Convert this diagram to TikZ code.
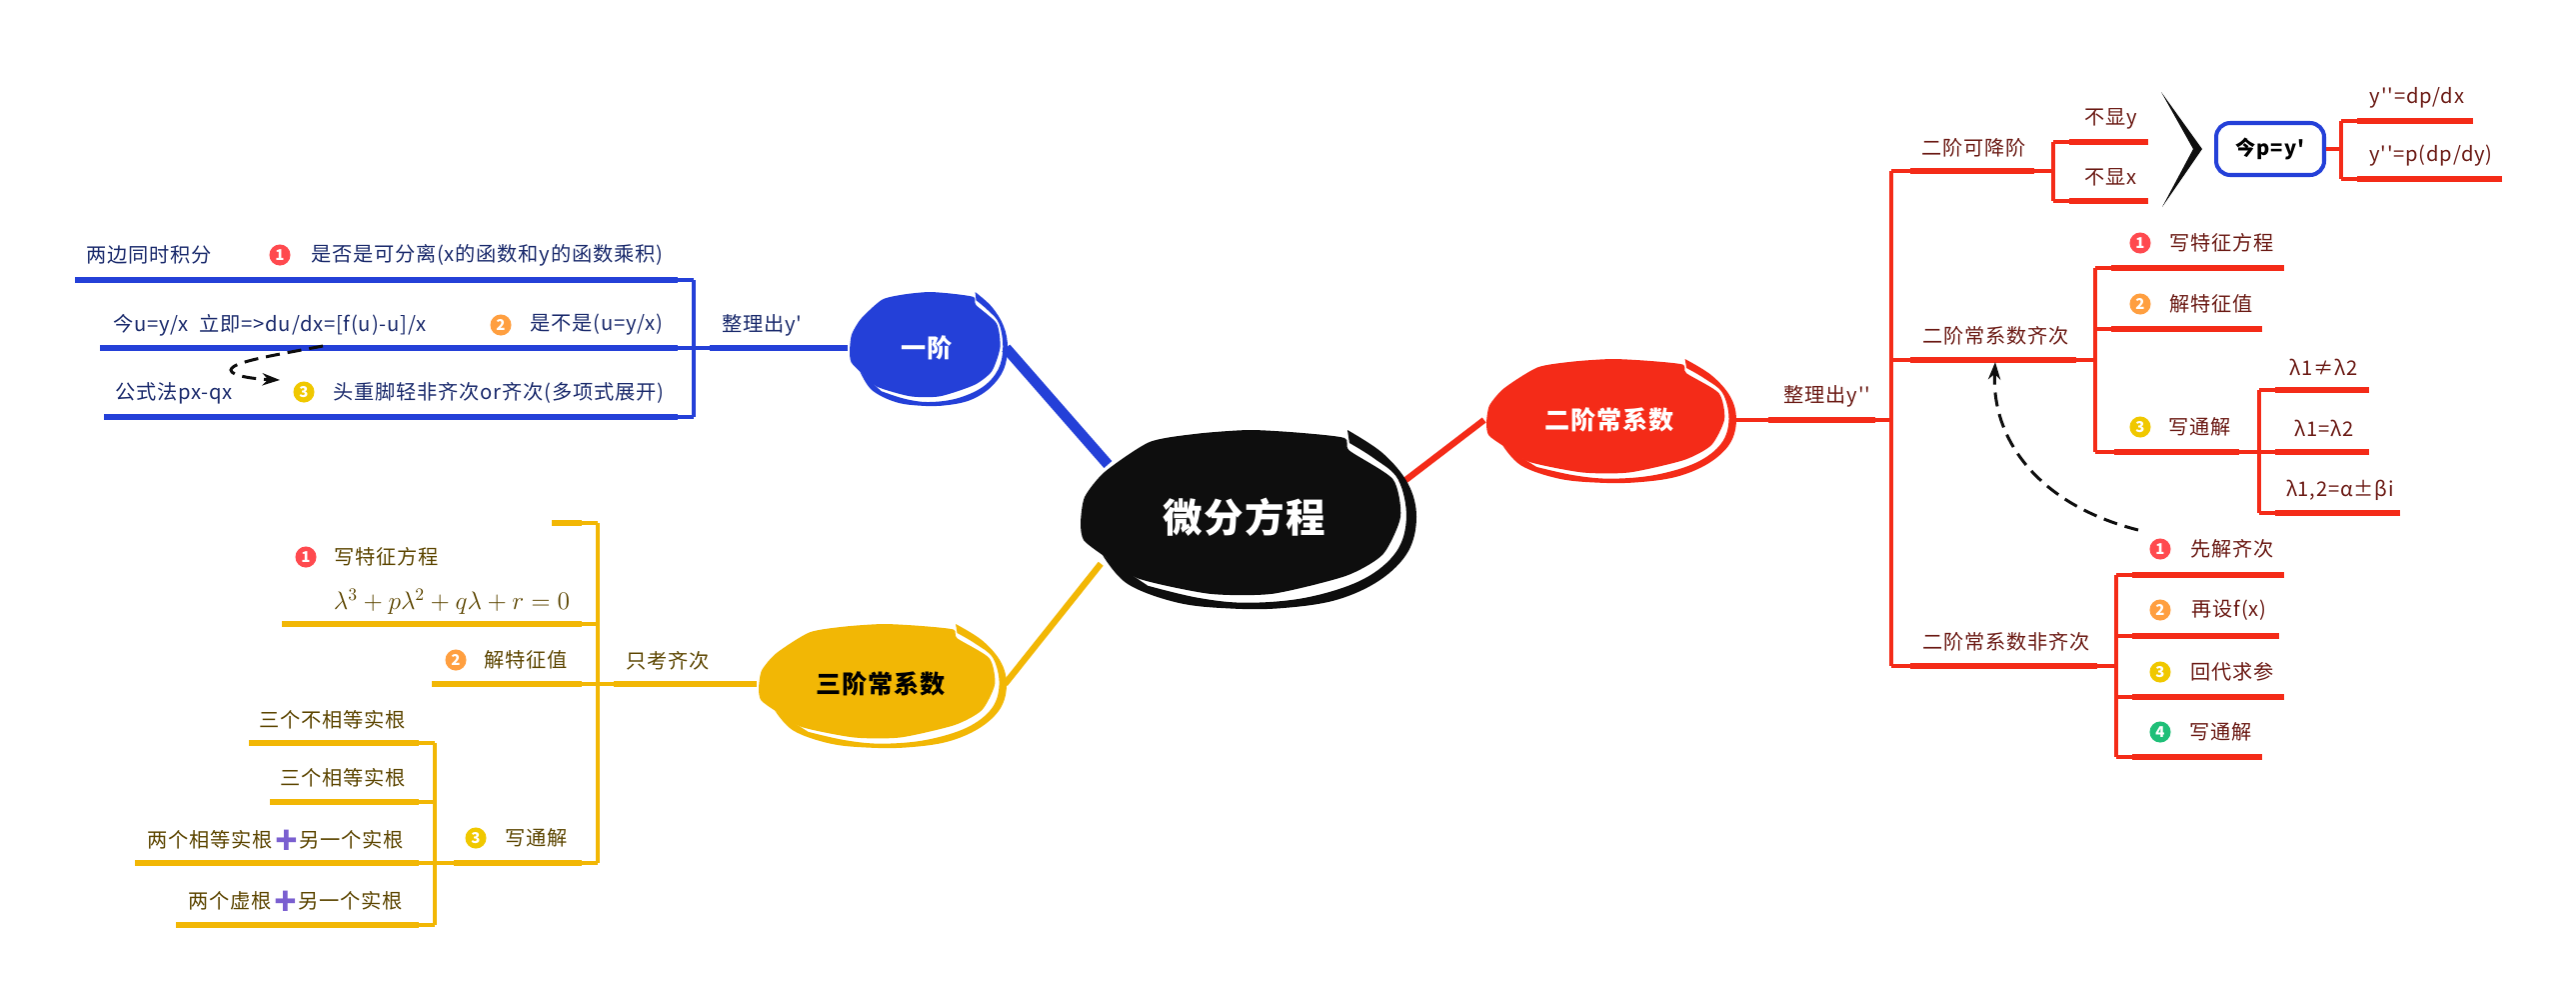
\documentclass[tikz,border=0pt]{standalone}
\usepackage{amsmath}
\usepackage{fontspec}
\usepackage{tikz}
\usetikzlibrary{arrows.meta,shapes.geometric}
\newfontfamily\cjk[LetterSpace=4]{Noto Sans CJK SC}
\newfontfamily\emojifont{Noto Emoji}
\definecolor{blueline}{HTML}{2440D8}
\definecolor{goldline}{HTML}{F2B705}
\definecolor{redline}{HTML}{F42B18}
\definecolor{inkblack}{HTML}{0E0E0E}
\definecolor{bluetext}{HTML}{1A2A6C}
\definecolor{goldtext}{HTML}{5C4500}
\definecolor{redtext}{HTML}{6B1A14}
\definecolor{badgered}{HTML}{FF4A4F}
\definecolor{badgeorange}{HTML}{FF9F40}
\definecolor{badgeyellow}{HTML}{F0C800}
\definecolor{badgegreen}{HTML}{1FBF78}
\definecolor{pluscolor}{HTML}{7A5FD0}
\pgfdeclarelayer{back}
\pgfsetlayers{back,main}
\newcommand{\plusmark}{{\color{pluscolor}\emojifont\fontsize{12}{13}\selectfont ➕}}
\newcommand{\blob}[5]{
    \begin{scope}[shift={(#1,#2)},xscale=#3,yscale=#4]
        \fill[#5] plot[smooth cycle,tension=.4] coordinates {(.571,-.911) (.3,-.97) (.006,-1) (-.3,-.96) (-.589,-.866) (-.857,-.531) (-.976,-.251) (-1,.039) (-.982,.229) (-.869,.397) (-.655,.66) (-.232,.83) (.143,.83) (.58,.63) (.80,.39) (.905,-.03) (.86,-.45) (.601,-.77)};
        \fill[#5] plot[smooth,tension=.6] coordinates {(.589,-1) (.80,-.74) (.95,-.40) (1,-.03) (.95,.36) (.78,.68) (.52,.9) (.2,.99) (-.1,.995) (-.42,.93) (-.72,.72) (-.869,.397)} -- plot[smooth,tension=.6] coordinates {(-.6,.74) (-.3,.875) (-.006,.93) (.35,.87) (.68,.67) (.88,.36) (.94,-.03) (.89,-.45) (.75,-.68) (.601,-.855)} -- cycle;
    \end{scope}
}
\tikzset{
    bluenote/.style={text=bluetext,inner sep=0pt,font=\cjk\fontsize{11.5}{13}\selectfont},
    goldnote/.style={text=goldtext,inner sep=0pt,font=\cjk\fontsize{11.5}{13}\selectfont},
    rednote/.style={text=redtext,inner sep=0pt,font=\cjk\fontsize{11.5}{13}\selectfont},
    badge/.style={circle,fill=#1,text=white,inner sep=0pt,minimum size=12pt,font=\cjk\bfseries\fontsize{8.5}{9}\selectfont},
    topic/.style={ellipse,inner sep=0pt,font=\cjk\bfseries\fontsize{14.3}{16}\selectfont},
    twig/.style={draw=#1,line width=3pt,shorten >=9pt,preaction={draw=#1,line width=1.9pt,shorten >=0pt}},
    stem/.style={line width=1.9pt},
    hint/.style={draw=inkblack,line width=1.7pt,dash pattern=on 8pt off 4.5pt,-{Stealth[length=10pt,width=7pt]}}
}
\begin{document}
\begin{tikzpicture}[x=0.02cm,y=-0.02cm]
    \useasboundingbox (0,0) rectangle (2577,1002);
    \blob{1249}{519.5}{168}{89.5}{inkblack}
    \blob{929}{349}{79}{57}{blueline}
    \blob{883}{686}{124}{62}{goldline}
    \blob{1612}{421}{125}{62}{redline}

    \node[topic,text=white,minimum width=6.72cm,minimum height=3.58cm,font=\cjk\bfseries\fontsize{22.5}{24}\selectfont] (root) at (1245,517) {微分方程};
    \node[topic,text=white,minimum width=3.16cm,minimum height=2.28cm] (first) at (927,348) {一阶};
    \node[topic,text=black,minimum width=4.96cm,minimum height=2.48cm] (third) at (881,684) {三阶常系数};
    \node[topic,text=white,minimum width=5cm,minimum height=2.48cm] (second) at (1610,420) {二阶常系数};

    \begin{pgfonlayer}{back}
        \draw[blueline,line width=6pt] (root.159) -- (first.east);
        \draw[goldline,line width=3.6pt] (root.198) -- (third.east);
        \draw[redline,line width=3.6pt] (root.12) -- (second.west);
    \end{pgfonlayer}

    \node[bluenote] (firstlabel) at (762,325) {整理出y'};
    \node[bluenote] (b1) at (149,255) {两边同时积分};
    \node[badge=badgered] (b1m) at (280,255) {1};
    \node[bluenote] (b1t) at (487,255) {是否是可分离(x的函数和y的函数乘积)};
    \node[bluenote] (b2) at (270,325) {今u=y/x\ \ 立即=>du/dx=[f(u)-u]/x};
    \node[badge=badgeorange] (b2m) at (501,325) {2};
    \node[bluenote] (b2t) at (597,325) {是不是(u=y/x)};
    \node[bluenote] (b3) at (174,393) {公式法px-qx};
    \node[badge=badgeyellow] (b3m) at (304,392) {3};
    \node[bluenote] (b3t) at (499,393) {头重脚轻非齐次or齐次(多项式展开)};

    \foreach \nm/\xa/\xb/\yy in {bl1/75/694/280,bl2/100/694/348,bl3/104/694/417}{
        \coordinate (\nm a) at (\xa,\yy);
        \coordinate (\nm b) at (\xb,\yy);
        \draw[twig=blueline] (\nm a) -- (\nm b);
    }
    \draw[blueline,stem] (bl1b) -- (bl3b);
    \draw[twig=blueline] (first.west) -- (bl2b);
    \coordinate (bhinta) at (323,346);
    \coordinate (bhintb) at (280,380);
    \draw[hint] (bhinta) .. controls (270,356) and (232,362) .. (231,370) .. controls (231,376) and (255,379) .. (bhintb);

    \node[goldnote] (thirdlabel) at (668,661) {只考齐次};
    \node[badge=badgered] (g1m) at (306,557) {1};
    \node[goldnote] (g1) at (387,557) {写特征方程};
    \node[goldnote,font=\Large] (g1f) at (452,602) {$\lambda^3+p\lambda^2+q\lambda+r=0$};
    \node[badge=badgeorange] (g2m) at (456,660) {2};
    \node[goldnote] (g2) at (526,660) {解特征值};
    \node[badge=badgeyellow] (g3m) at (476,838) {3};
    \node[goldnote] (g3) at (537,838) {写通解};
    \node[goldnote] (gs1t) at (333,720) {三个不相等实根};
    \node[goldnote] (gs2t) at (343,778) {三个相等实根};
    \node[goldnote] (gs3t) at (276,840) {两个相等实根\plusmark 另一个实根};
    \node[goldnote] (gs4t) at (296,901) {两个虚根\plusmark 另一个实根};

    \foreach \nm/\xa/\xb/\yy in {gl0/552/598/523,gl1/282/598/624,gl2/432/598/684,gl3/454/598/863,gs1/249/435/743,gs2/270/435/802,gs3/135/435/863,gs4/176/435/925}{
        \coordinate (\nm a) at (\xa,\yy);
        \coordinate (\nm b) at (\xb,\yy);
        \draw[twig=goldline] (\nm a) -- (\nm b);
    }
    \draw[goldline,stem] (gl0b) -- (gl3b);
    \draw[goldline,stem] (gs1b) -- (gs4b);
    \draw[goldline,stem] (gs3b) -- (gl3a);
    \draw[twig=goldline] (third.west) -- (gl2b);

    \node[rednote] (secondlabel) at (1828,396) {整理出y''};
    \node[rednote] (r1) at (1975,148) {二阶可降阶};
    \node[rednote] (r1a) at (2112,119) {不显y};
    \node[rednote] (r1b) at (2112,177) {不显x};
    \node[draw=blueline,line width=2.3pt,rounded corners=8pt,minimum width=2.16cm,minimum height=1.04cm,inner sep=0pt,text=black,font=\cjk\bfseries\fontsize{11.5}{13}\selectfont] (letp) at (2271,149) {今p=y'};
    \node[rednote] (rp1t) at (2418,98) {y''=dp/dx};
    \node[rednote] (rp2t) at (2432,156) {y''=p(dp/dy)};
    \node[rednote] (r2) at (1997,336) {二阶常系数齐次};
    \node[badge=badgered] (r21m) at (2141,243) {1};
    \node[rednote] (r21t) at (2223,243) {写特征方程};
    \node[badge=badgeorange] (r22m) at (2141,304) {2};
    \node[rednote] (r22t) at (2212,304) {解特征值};
    \node[badge=badgeyellow] (r23m) at (2141,427) {3};
    \node[rednote] (r23t) at (2201,427) {写通解};
    \node[rednote] (rs1t) at (2325,367) {λ1≠λ2};
    \node[rednote] (rs2t) at (2325,428) {λ1=λ2};
    \node[rednote] (rs3t) at (2341,490) {λ1,2=α±βi};
    \node[rednote] (r3) at (2007,642) {二阶常系数非齐次};
    \node[badge=badgered] (r31m) at (2161,549) {1};
    \node[rednote] (r31t) at (2233,549) {先解齐次};
    \node[badge=badgeorange] (r32m) at (2161,610) {2};
    \node[rednote] (r32t) at (2230,610) {再设f(x)};
    \node[badge=badgeyellow] (r33m) at (2161,672) {3};
    \node[rednote] (r33t) at (2233,672) {回代求参};
    \node[badge=badgegreen] (r34m) at (2161,732) {4};
    \node[rednote] (r34t) at (2222,732) {写通解};

    \foreach \nm/\xa/\xb/\yy in {rl1/2149/2054/142,rl2/2149/2054/201,rp1/2474/2342/121,rp2/2503/2342/179,r21/2285/2096/268,r22/2263/2096/329,rs1/2370/2260/390,rs2/2370/2260/452,rs3/2401/2260/513,r31/2285/2117/575,r32/2280/2117/636,r33/2285/2117/697,r34/2263/2117/757}{
        \coordinate (\nm a) at (\xa,\yy);
        \coordinate (\nm b) at (\xb,\yy);
        \draw[twig=redline] (\nm a) -- (\nm b);
    }
    \foreach \nm/\xa/\xb/\yy in {rm1/2054/1892/171,rm2/2096/1892/360,rm3/2117/1892/666,r23/2259/2096/452}{
        \coordinate (\nm a) at (\xa,\yy);
        \coordinate (\nm b) at (\xb,\yy);
        \draw[redline,stem] (\nm a) -- (\nm b);
        \draw[redline,line width=3pt,shorten <=11pt,shorten >=11pt] (\nm a) -- (\nm b);
    }
    \coordinate (rmid) at (1892,420);
    \draw[redline,stem] (rm1b) -- (rm3b);
    \draw[redline,stem] (rl1b) -- (rl2b);
    \draw[redline,stem] (rp1b) -- (rp2b);
    \draw[redline,stem] (r21b) -- (r23b);
    \draw[redline,stem] (rs1b) -- (rs3b);
    \draw[redline,stem] (r31b) -- (r34b);
    \draw[redline,stem] (second.east) -- (rmid);
    \draw[redline,line width=3pt,shorten <=19pt,shorten >=9pt] (second.east) -- (rmid);
    \draw[redline,stem] (letp.east) -- (rp1b |- letp);
    \fill[inkblack] (2162,92) -- (2203,149) -- (2163,207) -- (2194,149) -- cycle;
    \coordinate (rhinta) at (2139,530);
    \coordinate (rhintb) at (1996,362);
    \draw[hint] (rhinta) .. controls (2040,505) and (1992,440) .. (rhintb);
\end{tikzpicture}
\end{document}
